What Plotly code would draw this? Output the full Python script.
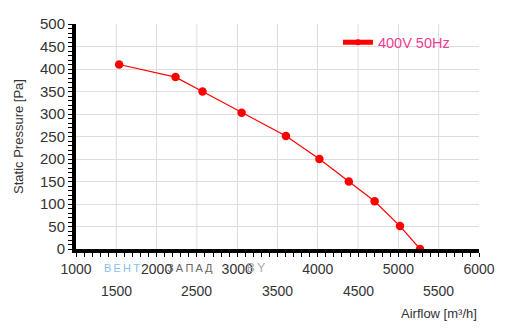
import plotly.graph_objects as go

# Fan curve: static pressure vs airflow
airflow = [1535, 2235, 2570, 3055, 3605, 4020, 4385, 4705, 5020, 5268]
pressure = [410, 382, 350, 303, 251, 200, 150, 106, 51, 0]
series_name = "400V 50Hz"

x_major = [1000, 2000, 3000, 4000, 5000, 6000]
x_minor_row = [1500, 2500, 3500, 4500, 5500]
y_ticks = list(range(0, 501, 50))

RED = "#ff0000"
FONT = "Liberation Sans, Arial, sans-serif"

fig = go.Figure()
fig.add_trace(go.Scatter(
    x=airflow, y=pressure, mode="lines+markers",
    line=dict(color=RED, width=1.2),
    marker=dict(color=RED, size=8.5),
    showlegend=False, cliponaxis=False,
))
# legend entry with heavy line swatch
fig.add_trace(go.Scatter(
    x=[None], y=[None], mode="lines+markers", name=series_name,
    line=dict(color=RED, width=5),
    marker=dict(color=RED, size=6),
))

fig.update_layout(
    width=507, height=333,
    margin=dict(l=76, r=21, t=24, b=84),
    paper_bgcolor="white", plot_bgcolor="white",
    font=dict(family=FONT, color="#333333"),
    showlegend=True,
    legend=dict(x=0.65, y=0.99, xanchor="left", yanchor="top",
                bgcolor="rgba(0,0,0,0)", itemwidth=30,
                font=dict(size=14.5, color="#ee3d96")),
    xaxis=dict(
        range=[1000, 6000],
        tickmode="array", tickvals=x_major, ticktext=[str(v) for v in x_major],
        tickfont=dict(size=14, color="#333333"),
        ticks="outside", ticklen=4, tickcolor="black", tickwidth=1,
        minor=dict(dtick=100, ticks="outside", ticklen=4, tickcolor="black",
                   showgrid=False),
        showgrid=True, gridcolor="#dddddd", gridwidth=1,
        showline=True, linecolor="black", linewidth=4,
        zeroline=False,
    ),
    yaxis=dict(
        range=[0, 500],
        tickmode="array", tickvals=y_ticks,
        tickfont=dict(size=15, color="#333333"),
        ticks="outside", ticklen=4, tickcolor="black", tickwidth=1,
        minor=dict(dtick=10, ticks="outside", ticklen=4, tickcolor="black",
                   showgrid=False),
        showgrid=True, gridcolor="#dddddd", gridwidth=1,
        showline=True, linecolor="black", linewidth=4,
        zeroline=False,
        title=dict(text="Static Pressure [Pa]", font=dict(size=13, color="#333333"),
                   standoff=14),
    ),
)

# vertical grid at every 500
for v in x_minor_row:
    fig.add_vline(x=v, line=dict(color="#dddddd", width=1), layer="below")

# second row of x tick labels
for v in x_minor_row:
    fig.add_annotation(x=v, xref="x", y=-0.185, yref="paper", text=str(v),
                       showarrow=False, yanchor="middle",
                       font=dict(size=14, color="#333333"))

fig.add_annotation(x=1.0, xref="paper", y=-0.285, yref="paper",
                   text="Airflow [m³/h]", showarrow=False,
                   xanchor="right", yanchor="middle",
                   font=dict(size=13, color="#333333"))

# site watermark
sp = "\u2009"
fig.add_annotation(x=0.064, xref="paper", y=-0.085, yref="paper",
                   text=sp.join("ВЕНТ"), showarrow=False, xanchor="left",
                   yanchor="middle", font=dict(size=11, color="#86c1ea"))
fig.add_annotation(x=0.222, xref="paper", y=-0.085, yref="paper",
                   text=sp.join("ЗАПАД"), showarrow=False, xanchor="left",
                   yanchor="middle", font=dict(size=11, color="#666666"))
fig.add_annotation(x=0.405, xref="paper", y=-0.085, yref="paper",
                   text=sp.join(".BY"), showarrow=False, xanchor="left",
                   yanchor="middle", font=dict(size=12, color="#aaaaaa"))

fig.write_html("out.html")
